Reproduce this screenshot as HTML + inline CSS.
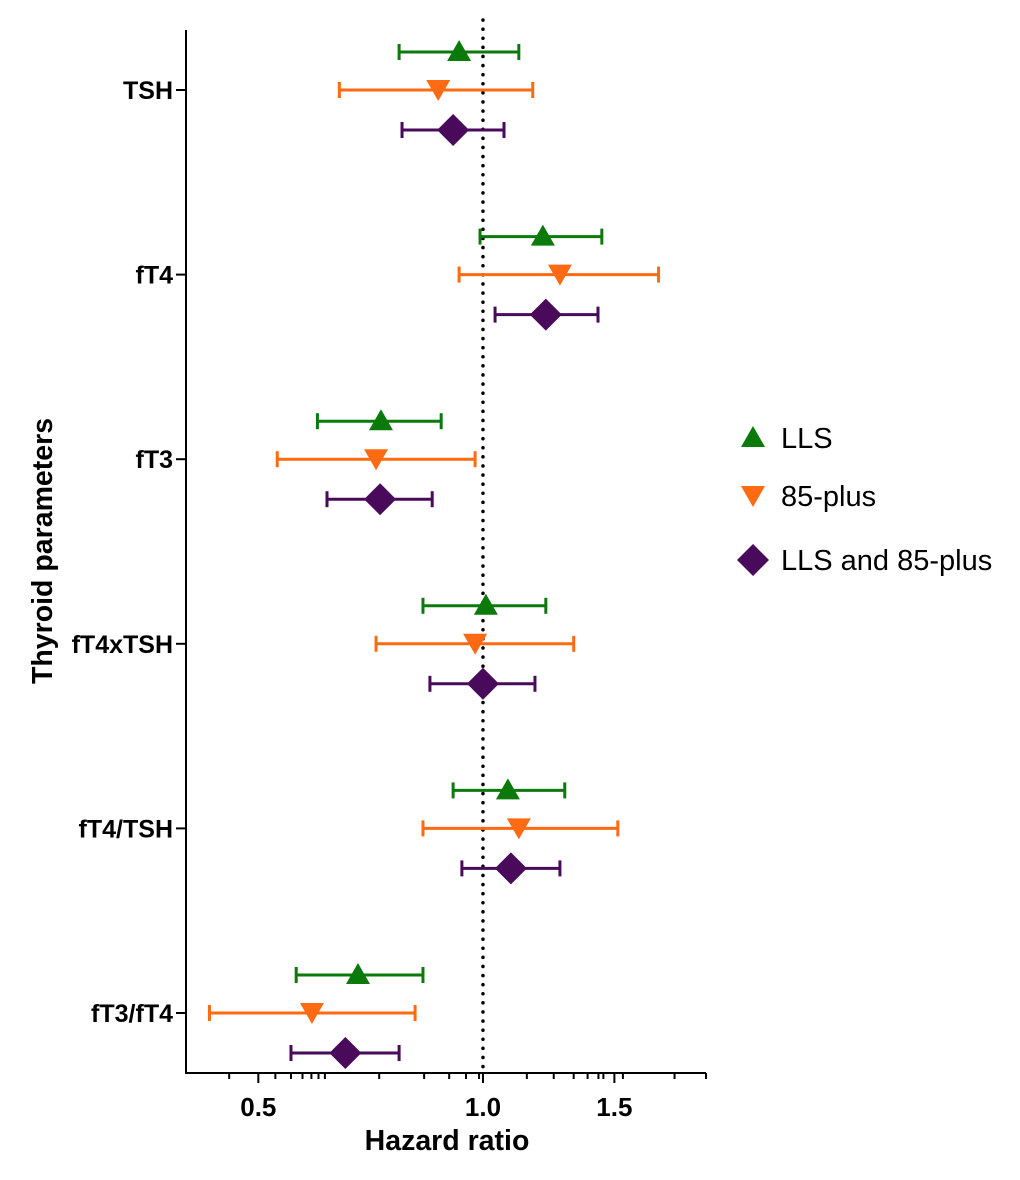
<!DOCTYPE html>
<html><head><meta charset="utf-8"><style>
body{margin:0;background:#fff}
svg{display:block;font-family:"Liberation Sans",Arial,sans-serif}
</style></head><body>
<svg id="chart" width="1020" height="1180" viewBox="0 0 1020 1180"></svg>
<script>
const categories=["TSH","fT4","fT3","fT4xTSH","fT4/TSH","fT3/fT4"];
const seriesNames=["LLS","85-plus","LLS and 85-plus"];
const llsHR=[0.929,1.203,0.730,1.009,1.080,0.680];
const llsLo=[0.772,0.991,0.600,0.831,0.912,0.562];
const llsHi=[1.117,1.443,0.879,1.214,1.287,0.831];
const p85HR=[0.871,1.268,0.719,0.976,1.117,0.590];
const p85Lo=[0.642,0.929,0.530,0.719,0.831,0.430];
const p85Hi=[1.166,1.719,0.976,1.323,1.516,0.811];
const bothHR=[0.912,1.214,0.728,1.000,1.090,0.654];
const bothLo=[0.779,1.038,0.618,0.849,0.937,0.553];
const bothHi=[1.067,1.426,0.855,1.174,1.268,0.772];
const majorTicks=[0.5,1.0,1.5];
const majorLabels=["0.5","1.0","1.5"];
const minorTicks=[0.457,0.527,0.553,0.573,0.589,0.602,0.614,0.726,0.834,0.901,0.949,0.988,1.145,1.244,1.323,1.381,1.428,1.45,1.54,1.806,1.99];
const refValue=1.0;

const NS="http://www.w3.org/2000/svg";
const svg=document.getElementById('chart');
const X0=186,X1=706,D0=0.4,D1=1.99;
function xs(v){return X0+(Math.log(v)-Math.log(D0))/(Math.log(D1)-Math.log(D0))*(X1-X0);}
const Y0=90,STEP=184.6;
function ys(i){return Y0+i*STEP;}
function mk(tag,a,parent){const e=document.createElementNS(NS,tag);for(const k in a)e.setAttribute(k,a[k]);(parent||svg).appendChild(e);return e;}

let e=mk('line',{x1:X0,y1:30,x2:X0,y2:1073,stroke:'#000','stroke-width':2});


e=mk('line',{x1:X0-1,y1:1073,x2:X1,y2:1073,stroke:'#000','stroke-width':2});


minorTicks.forEach(v=>{const t=mk('line',{x1:xs(v),y1:1073,x2:xs(v),y2:1079,stroke:'#000','stroke-width':2});

});
majorTicks.forEach((v,i)=>{const t=mk('line',{x1:xs(v),y1:1073,x2:xs(v),y2:1083,stroke:'#000','stroke-width':2});


const l=mk('text',{x:xs(v),y:1116,'text-anchor':'middle','font-size':26,'font-weight':'bold'});l.textContent=majorLabels[i];

});
e=mk('line',{x1:xs(refValue),y1:20,x2:xs(refValue),y2:1072,stroke:'#000','stroke-width':3.5,'stroke-dasharray':'0.1 9','stroke-linecap':'round'});



categories.forEach((c,i)=>{
 const t=mk('line',{x1:X0-10,y1:ys(i),x2:X0,y2:ys(i),stroke:'#000','stroke-width':2});
 
 
 const l=mk('text',{x:X0-13,y:ys(i)+9,'text-anchor':'end','font-size':25,'font-weight':'bold'});l.textContent=c;
 
 
});

const colors=["#0b7a0b","#ff6a13","#4a0a5c"];
const series=[[llsHR,llsLo,llsHi],[p85HR,p85Lo,p85Hi],[bothHR,bothLo,bothHi]];
const offsets=[-38,0,40];
function marker(k,x,y,parent){
 if(k===0)return mk('polygon',{points:`${x},${y-12} ${x+12},${y+9} ${x-12},${y+9}`,fill:colors[0]},parent);
 if(k===1)return mk('polygon',{points:`${x-12},${y-10} ${x+12},${y-10} ${x},${y+11}`,fill:colors[1]},parent);
 return mk('polygon',{points:`${x},${y-16} ${x+16},${y} ${x},${y+16} ${x-16},${y}`,fill:colors[2]},parent);
}
series.forEach((s,k)=>{
 categories.forEach((c,i)=>{
  const y=ys(i)+offsets[k];
  const g=mk('g',{});
  
  
  mk('line',{x1:xs(s[1][i]),y1:y,x2:xs(s[2][i]),y2:y,stroke:colors[k],'stroke-width':3},g);
  mk('line',{x1:xs(s[1][i]),y1:y-8,x2:xs(s[1][i]),y2:y+8,stroke:colors[k],'stroke-width':3},g);
  mk('line',{x1:xs(s[2][i]),y1:y-8,x2:xs(s[2][i]),y2:y+8,stroke:colors[k],'stroke-width':3},g);
  marker(k,xs(s[0][i]),y,g);
 });
});
const ly=[438,496,560];
seriesNames.forEach((n,k)=>{
 const g=mk('g',{});
 
 
 marker(k,753,ly[k],g);
 const t=mk('text',{x:781,y:ly[k]+10,'font-size':29},g);t.textContent=n;
});
e=mk('text',{x:447,y:1150,'text-anchor':'middle','font-size':28.5,'font-weight':'bold'});e.textContent='Hazard ratio';


e=mk('text',{x:0,y:0,'text-anchor':'middle','font-size':28.5,'font-weight':'bold',transform:'translate(52,551) rotate(-90)'});e.textContent='Thyroid parameters';


</script>
</body></html>
